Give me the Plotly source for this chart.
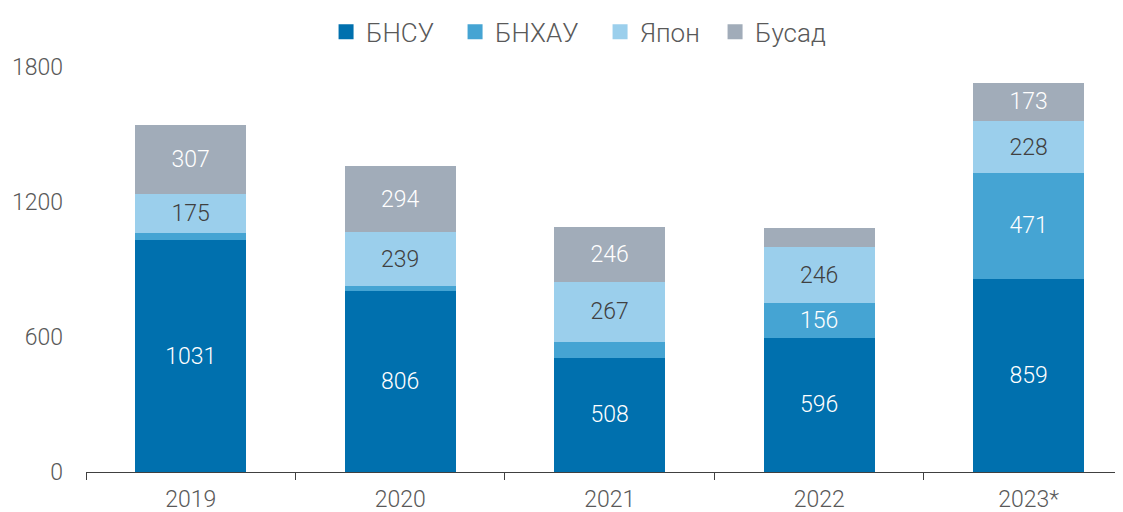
import plotly.graph_objects as go

years = ["2019", "2020", "2021", "2022", "2023*"]
bnsu = [1031, 806, 508, 596, 859]
bnhau = [30, 20, 70, 156, 471]
yapon = [175, 239, 267, 246, 228]
busad = [307, 294, 246, 86, 173]

series = [
    ("БНСУ", bnsu, "#0070ae", "white", 84),
    ("БНХАУ", bnhau, "#45a4d3", "white", 100),
    ("Япон", yapon, "#9bcfec", "#404040", 70),
    ("Бусад", busad, "#a1acb9", "white", 76),
]

FONT = "Roboto"
fig = go.Figure()
for name, vals, color, tcolor, lw in series:
    labels = [str(v) if v >= 100 else "" for v in vals]
    fig.add_trace(go.Bar(
        x=years, y=vals, name=name, marker=dict(color=color, line=dict(width=0)),
        text=labels, textposition="inside", insidetextanchor="middle",
        textfont=dict(family=FONT, size=23, color=tcolor, weight=300),
        width=0.53, showlegend=False, hoverinfo="skip",
    ))
for name, vals, color, tcolor, lw in series:
    fig.add_trace(go.Scatter(
        x=[None], y=[None], mode="markers", name=name, legendwidth=lw,
        marker=dict(symbol="square", size=15, color=color),
    ))

# The page body has an 8px margin; the figure is sized to fit the 1123x512 window.
fig.update_layout(
    barmode="stack",
    width=1115, height=504,
    margin=dict(l=78, r=0, t=59, b=40),
    plot_bgcolor="white", paper_bgcolor="white",
    font=dict(family=FONT, size=23, color="#595959", weight=300),
    uniformtext=dict(mode="show", minsize=10),
    legend=dict(orientation="h", x=0.2315, xanchor="left", y=1.145, yanchor="top",
                font=dict(family=FONT, size=26, color="#595959", weight=300),
                itemwidth=30, traceorder="normal"),
    xaxis=dict(range=[-0.5, 4.45], showline=True, linecolor="#404040", linewidth=1,
               ticks="outside", tickson="boundaries", ticklen=7, tickcolor="#404040",
               ticklabelstandoff=6, automargin=False,
               tickfont=dict(family=FONT, size=23, color="#595959", weight=300), showgrid=False),
    yaxis=dict(range=[0, 1800], tickvals=[0, 600, 1200, 1800], showgrid=False,
               zeroline=False, showline=False, ticks="", ticklabelstandoff=22, automargin=False,
               tickfont=dict(family=FONT, size=23, color="#595959", weight=300)),
)

fig.write_html("out.html")
